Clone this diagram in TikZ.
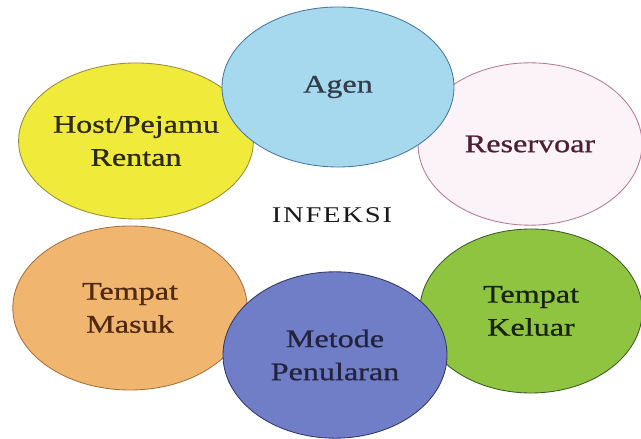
\documentclass[tikz,border=0pt]{standalone}
\usepackage{fontspec}
\setmainfont{Liberation Serif}
\newfontfamily\blobfont[FakeStretch=1.27,FakeBold=0.8]{Liberation Serif}
\newfontfamily\centrefont[FakeStretch=1.27,LetterSpace=8]{Liberation Serif}
\usetikzlibrary{shapes.geometric}
\definecolor{agenfill}{RGB}{166,217,238}
\definecolor{agenline}{RGB}{70,120,160}
\definecolor{hostfill}{RGB}{240,234,58}
\definecolor{hostline}{RGB}{150,140,60}
\definecolor{resfill}{RGB}{251,243,248}
\definecolor{resline}{RGB}{185,120,150}
\definecolor{keluarfill}{RGB}{142,196,64}
\definecolor{keluarline}{RGB}{60,90,40}
\definecolor{metodefill}{RGB}{112,126,200}
\definecolor{metodeline}{RGB}{50,55,100}
\definecolor{masukfill}{RGB}{240,182,112}
\definecolor{masukline}{RGB}{170,110,60}

\begin{document}
\begin{tikzpicture}[every node/.style={font=\blobfont\fontsize{18}{23.5}\selectfont},
  blob/.style={ellipse,draw,line width=0.6pt,inner sep=0pt,align=center}]
 \useasboundingbox (0,0) rectangle (16.025,10.975);
 \node[blob,fill=hostfill,draw=hostline,text={rgb,255:red,45;green,42;blue,20},
   minimum width=5.75cm,minimum height=3.9cm] (host) at (3.4,7.45)
   {Host/Pejamu\\Rentan};
 \node[blob,fill=resfill,draw=resline,text={rgb,255:red,80;green,30;blue,50},
   minimum width=5.6cm,minimum height=4.06cm] (reservoar) at (13.25,7.375)
   {Reservoar};
 \node[blob,fill=masukfill,draw=masukline,text={rgb,255:red,80;green,42;blue,15},
   minimum width=5.86cm,minimum height=4.1cm] (masuk) at (3.25,3.275)
   {Tempat\\Masuk};
 \node[blob,fill=keluarfill,draw=keluarline,text={rgb,255:red,25;green,35;blue,15},
   minimum width=5.56cm,minimum height=4.1cm] (keluar) at (13.275,3.2)
   {Tempat\\Keluar};
 \node[blob,fill=agenfill,draw=agenline,text={rgb,255:red,50;green,60;blue,75},
   minimum width=5.8cm,minimum height=4cm] (agen) at (8.45,8.8) {Agen};
 \node[blob,fill=metodefill,draw=metodeline,text={rgb,255:red,35;green,35;blue,60},
   minimum width=5.6cm,minimum height=4.16cm] (metode) at (8.375,2.1)
   {Metode\\Penularan};
 \node[font=\centrefont\fontsize{16}{19}\selectfont,text=black!90]
   (infeksi) at (8.3,5.6) {INFEKSI};
\end{tikzpicture}
\end{document}
